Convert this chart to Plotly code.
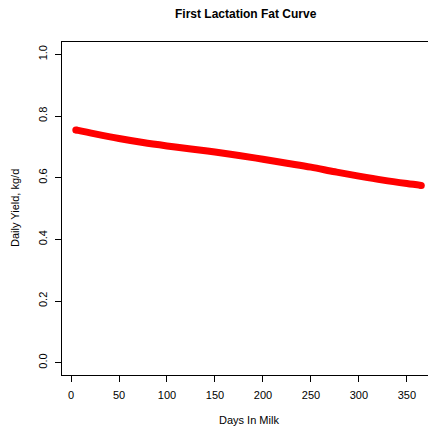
import plotly.graph_objects as go

days = [5, 25, 50, 75, 100, 125, 150, 175, 200, 225, 250, 275, 300, 325, 350, 365]
fat_yield = [0.755, 0.742, 0.727, 0.714, 0.703, 0.693, 0.683, 0.672, 0.660, 0.647,
             0.634, 0.619, 0.605, 0.592, 0.581, 0.575]
x_ticks = [0, 50, 100, 150, 200, 250, 300, 350]
y_ticks = [0.0, 0.2, 0.4, 0.6, 0.8, 1.0]
y_tick_text = ["0.0", "0.2", "0.4", "0.6", "0.8", "1.0"]

W, H = 428, 427
L, R, T, B = 62, 0, 42, 52
FONT = "Liberation Sans, Arial, sans-serif"

fig = go.Figure()
fig.add_trace(go.Scatter(x=days, y=fat_yield, mode="lines",
                         line=dict(color="#ff0000", width=7, shape="spline"),
                         showlegend=False, hoverinfo="skip"))
fig.add_trace(go.Scatter(x=[days[0], days[-1]], y=[fat_yield[0], fat_yield[-1]], mode="markers",
                         marker=dict(color="#ff0000", size=7), showlegend=False, hoverinfo="skip"))

fig.update_layout(
    width=W, height=H,
    margin=dict(l=L, r=R, t=T, b=B, pad=0),
    plot_bgcolor="white", paper_bgcolor="white",
    font=dict(family=FONT, size=11, color="black"),
    xaxis=dict(range=[-9.4, 372], tickvals=x_ticks, ticks="outside", ticklen=6,
               tickcolor="black", showline=True, linecolor="black", linewidth=1,
               mirror=True, showgrid=False, zeroline=False,
               tickfont=dict(size=11), ticklabelstandoff=4),
    yaxis=dict(range=[-0.04, 1.04], tickvals=y_ticks, ticktext=y_tick_text,
               ticks="outside", ticklen=6, tickcolor="black", showline=True,
               linecolor="black", linewidth=1, showgrid=False, zeroline=False,
               tickangle=-90, tickfont=dict(size=11), ticklabelstandoff=4),
    annotations=[
        dict(text="<b>First Lactation Fat Curve</b>", xref="paper", yref="paper",
             x=(246 - L) / (W - L - R), y=(H - B - 14) / (H - T - B), showarrow=False,
             font=dict(size=12), xanchor="center", yanchor="middle"),
        dict(text="Days In Milk", xref="paper", yref="paper",
             x=(249 - L) / (W - L - R), y=(H - B - 420) / (H - T - B), showarrow=False,
             font=dict(size=11), xanchor="center", yanchor="middle"),
        dict(text="Daily Yield, kg/d", xref="paper", yref="paper", textangle=-90,
             x=(15 - L) / (W - L - R), y=(H - B - 208) / (H - T - B), showarrow=False,
             font=dict(size=11), xanchor="center", yanchor="middle"),
    ],
)

fig.write_html("out.html")
